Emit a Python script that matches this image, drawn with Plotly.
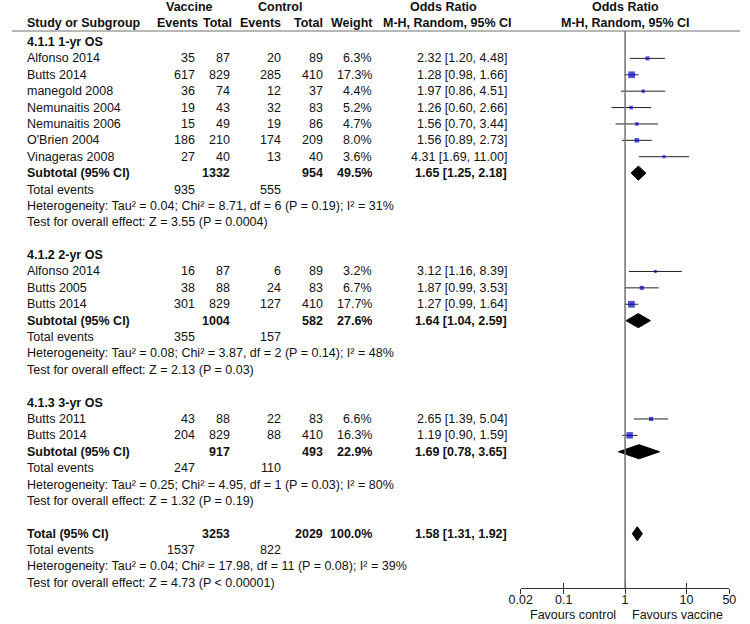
import math
import plotly.graph_objects as go

# ---------------- data ----------------
g1_names = ["Alfonso 2014", "Butts 2014", "manegold 2008", "Nemunaitis 2004",
            "Nemunaitis 2006", "O'Brien 2004", "Vinageras 2008"]
g1_vac_ev = [35, 617, 36, 19, 15, 186, 27]
g1_vac_tot = [87, 829, 74, 43, 49, 210, 40]
g1_ctl_ev = [20, 285, 12, 32, 19, 174, 13]
g1_ctl_tot = [89, 410, 37, 83, 86, 209, 40]
g1_weight = [6.3, 17.3, 4.4, 5.2, 4.7, 8.0, 3.6]
g1_or = [2.32, 1.28, 1.97, 1.26, 1.56, 1.56, 4.31]
g1_lo = [1.20, 0.98, 0.86, 0.60, 0.70, 0.89, 1.69]
g1_hi = [4.48, 1.66, 4.51, 2.66, 3.44, 2.73, 11.00]

g2_names = ["Alfonso 2014", "Butts 2005", "Butts 2014"]
g2_vac_ev = [16, 38, 301]
g2_vac_tot = [87, 88, 829]
g2_ctl_ev = [6, 24, 127]
g2_ctl_tot = [89, 83, 410]
g2_weight = [3.2, 6.7, 17.7]
g2_or = [3.12, 1.87, 1.27]
g2_lo = [1.16, 0.99, 0.99]
g2_hi = [8.39, 3.53, 1.64]

g3_names = ["Butts 2011", "Butts 2014"]
g3_vac_ev = [43, 204]
g3_vac_tot = [88, 829]
g3_ctl_ev = [22, 88]
g3_ctl_tot = [83, 410]
g3_weight = [6.6, 16.3]
g3_or = [2.65, 1.19]
g3_lo = [1.39, 0.90]
g3_hi = [5.04, 1.59]

group_titles = ["4.1.1 1-yr OS", "4.1.2 2-yr OS", "4.1.3 3-yr OS"]
sub_vac_tot = [1332, 1004, 917]
sub_ctl_tot = [954, 582, 493]
sub_weight = ["49.5%", "27.6%", "22.9%"]
sub_or = [1.65, 1.64, 1.69]
sub_lo = [1.25, 1.04, 0.78]
sub_hi = [2.18, 2.59, 3.65]
sub_vac_events = [935, 355, 247]
sub_ctl_events = [555, 157, 110]
sub_het = ["Heterogeneity: Tau\u00b2 = 0.04; Chi\u00b2 = 8.71, df = 6 (P = 0.19); I\u00b2 = 31%",
           "Heterogeneity: Tau\u00b2 = 0.08; Chi\u00b2 = 3.87, df = 2 (P = 0.14); I\u00b2 = 48%",
           "Heterogeneity: Tau\u00b2 = 0.25; Chi\u00b2 = 4.95, df = 1 (P = 0.03); I\u00b2 = 80%"]
sub_test = ["Test for overall effect: Z = 3.55 (P = 0.0004)",
            "Test for overall effect: Z = 2.13 (P = 0.03)",
            "Test for overall effect: Z = 1.32 (P = 0.19)"]

tot_vac_tot = 3253
tot_ctl_tot = 2029
tot_weight = "100.0%"
tot_or, tot_lo, tot_hi = 1.58, 1.31, 1.92
tot_vac_events = 1537
tot_ctl_events = 822
tot_het = "Heterogeneity: Tau\u00b2 = 0.04; Chi\u00b2 = 17.98, df = 11 (P = 0.08); I\u00b2 = 39%"
tot_test = "Test for overall effect: Z = 4.73 (P < 0.00001)"

tick_vals = [0.02, 0.1, 1, 10, 50]
tick_text = ["0.02", "0.1", "1", "10", "50"]

groups = [
    (g1_names, g1_vac_ev, g1_vac_tot, g1_ctl_ev, g1_ctl_tot, g1_weight, g1_or, g1_lo, g1_hi),
    (g2_names, g2_vac_ev, g2_vac_tot, g2_ctl_ev, g2_ctl_tot, g2_weight, g2_or, g2_lo, g2_hi),
    (g3_names, g3_vac_ev, g3_vac_tot, g3_ctl_ev, g3_ctl_tot, g3_weight, g3_or, g3_lo, g3_hi),
]

# ---------------- layout constants (pixels) ----------------
W, H = 750, 624
ROW0, ROWH = 42.0, 16.39
AXIS_PX = 588.0
FONT = "Liberation Sans, Arial, sans-serif"
FS = 12.5
TXT = "#111111"


def pxrow(p):
    return (p - ROW0) / ROWH


X_NAME = 13
X_VEV, X_VTOT, X_CEV, X_CTOT, X_W, X_OR = 190, 226, 278, 321, 371, 510

annotations = []


def txt(xpx, row, s, anchor="right", bold=False, yref="y", size=FS):
    annotations.append(dict(
        x=xpx / W, xref="paper", y=row, yref=yref,
        text=("<b>%s</b>" % s) if bold else s,
        xanchor=anchor, yanchor="middle", showarrow=False,
        font=dict(family=FONT, size=size, color=TXT)))


def fmt_ci(o, l, h):
    return "%.2f [%.2f, %.2f]" % (o, l, h)


# headers
hr1, hr2 = pxrow(7), pxrow(23)
txt(182, hr1, "Vaccine", "center", True)
txt(275, hr1, "Control", "center", True)
txt(443, hr1, "Odds Ratio", "center", True)
txt(629, hr1, "Odds Ratio", "center", True)
txt(X_NAME, hr2, "Study or Subgroup", "left", True)
txt(193, hr2, "Events", "right", True)
txt(228, hr2, "Total", "right", True)
txt(278, hr2, "Events", "right", True)
txt(321, hr2, "Total", "right", True)
txt(372, hr2, "Weight", "right", True)
txt(447, hr2, "M-H, Random, 95% CI", "center", True)
txt(629, hr2, "M-H, Random, 95% CI", "center", True)

ci_x, ci_y = [], []
sq_x, sq_y, sq_s = [], [], []
diamonds = []

row = 0
for gi, (names, vev, vtot, cev, ctot, wt, orr, lo, hi) in enumerate(groups):
    txt(X_NAME, row, group_titles[gi], "left", True)
    row += 1
    for k in range(len(names)):
        txt(X_NAME, row, names[k], "left")
        txt(X_VEV, row, str(vev[k]))
        txt(X_VTOT, row, str(vtot[k]))
        txt(X_CEV, row, str(cev[k]))
        txt(X_CTOT, row, str(ctot[k]))
        txt(X_W, row, "%.1f%%" % wt[k])
        txt(X_OR, row, fmt_ci(orr[k], lo[k], hi[k]))
        ci_x += [lo[k], hi[k], None]
        ci_y += [row, row, None]
        sq_x.append(orr[k]); sq_y.append(row); sq_s.append(1.6 * math.sqrt(wt[k]))
        row += 1
    txt(X_NAME, row, "Subtotal (95% CI)", "left", True)
    txt(X_VTOT, row, str(sub_vac_tot[gi]), bold=True)
    txt(X_CTOT, row, str(sub_ctl_tot[gi]), bold=True)
    txt(X_W, row, sub_weight[gi], bold=True)
    txt(X_OR, row, fmt_ci(sub_or[gi], sub_lo[gi], sub_hi[gi]), bold=True)
    diamonds.append((sub_or[gi], sub_lo[gi], sub_hi[gi], row))
    row += 1
    txt(X_NAME, row, "Total events", "left")
    txt(X_VEV, row, str(sub_vac_events[gi]))
    txt(X_CEV, row, str(sub_ctl_events[gi]))
    row += 1
    txt(X_NAME, row, sub_het[gi], "left")
    row += 1
    txt(X_NAME, row, sub_test[gi], "left")
    row += 2

txt(X_NAME, row, "Total (95% CI)", "left", True)
txt(X_VTOT, row, str(tot_vac_tot), bold=True)
txt(X_CTOT, row, str(tot_ctl_tot), bold=True)
txt(X_W, row, tot_weight, bold=True)
txt(X_OR, row, fmt_ci(tot_or, tot_lo, tot_hi), bold=True)
diamonds.append((tot_or, tot_lo, tot_hi, row))
row += 1
txt(X_NAME, row, "Total events", "left")
txt(X_VEV, row, str(tot_vac_events))
txt(X_CEV, row, str(tot_ctl_events))
row += 1
txt(X_NAME, row, tot_het, "left")
row += 1
txt(X_NAME, row, tot_test, "left")

# favours labels
fav_y = 1 - 615 / H
txt(622, fav_y, "Favours control", "right", yref="paper")
txt(634, fav_y, "Favours vaccine", "left", yref="paper")

fig = go.Figure()

# CI lines
fig.add_trace(go.Scatter(x=ci_x, y=ci_y, mode="lines",
                         line=dict(color="#222222", width=1),
                         hoverinfo="skip", showlegend=False, cliponaxis=False))
# squares
fig.add_trace(go.Scatter(x=sq_x, y=sq_y, mode="markers",
                         marker=dict(symbol="square", size=sq_s, color="#0000C8",
                                     line=dict(width=0)),
                         showlegend=False, cliponaxis=False))
# diamonds
DH = 0.43
for (o, l, h, r) in diamonds:
    fig.add_trace(go.Scatter(x=[l, o, h, o, l], y=[r, r - DH, r, r + DH, r],
                             mode="lines", fill="toself", fillcolor="#000000",
                             line=dict(color="#000000", width=1),
                             hoverinfo="skip", showlegend=False, cliponaxis=False))

# invisible trace for overlay axis (inner tick half)
fig.add_trace(go.Scatter(x=[1], y=[0], xaxis="x2", yaxis="y", mode="markers",
                         marker=dict(opacity=0), hoverinfo="skip", showlegend=False))

y_top = pxrow(0)
y_bot = pxrow(AXIS_PX)
hdr_line = pxrow(31)

shapes = [
    dict(type="line", xref="paper", yref="y", x0=0, x1=747 / W, y0=hdr_line, y1=hdr_line,
         line=dict(color="#707070", width=1.2)),
    dict(type="line", xref="x", yref="y", x0=1, x1=1, y0=hdr_line, y1=y_bot,
         line=dict(color="#707070", width=1.5)),
]

xr = [math.log10(0.02), math.log10(50)]
dom = [522 / W, 736 / W]

fig.update_layout(
    width=W, height=H,
    margin=dict(l=0, r=0, t=0, b=0),
    paper_bgcolor="white", plot_bgcolor="white",
    font=dict(family=FONT, size=FS, color=TXT),
    xaxis=dict(type="log", range=xr, domain=dom, anchor="y",
               tickvals=tick_vals, ticktext=tick_text,
               ticks="outside", ticklen=5, tickwidth=1, tickcolor="#333333",
               ticklabelstandoff=-5,
               showline=True, linecolor="#333333", linewidth=1,
               showgrid=False, zeroline=False,
               tickfont=dict(family=FONT, size=FS, color=TXT)),
    xaxis2=dict(type="log", range=xr, domain=dom, anchor="y", overlaying="x",
                tickvals=tick_vals, ticks="inside", ticklen=5, tickwidth=1,
                tickcolor="#333333", showticklabels=False, showline=False,
                showgrid=False, zeroline=False),
    yaxis=dict(range=[y_bot, y_top], domain=[1 - AXIS_PX / H, 1], visible=False,
               showgrid=False, zeroline=False),
    shapes=shapes,
    annotations=annotations,
    showlegend=False,
)

fig.write_html(
    "out.html",
    config={"displayModeBar": False},
    post_script="document.body.style.margin='0px';document.body.style.overflow='hidden';",
)
